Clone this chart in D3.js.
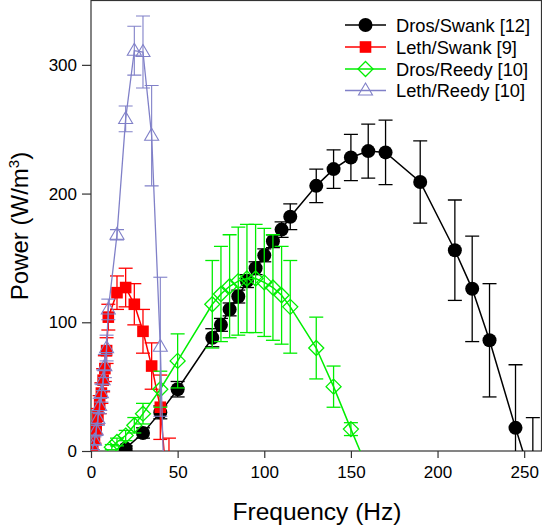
<!DOCTYPE html>
<html>
<head>
<meta charset="utf-8">
<script src="https://cdn.jsdelivr.net/npm/d3@7"></script>
<style>
  html, body { margin: 0; padding: 0; background: #fff; }
  svg { display: block; }
  text { font-family: "Liberation Sans", Arial, Helvetica, sans-serif; fill: #000; }
</style>
</head>
<body>
<svg id="chart" width="542" height="527"></svg>
<script>
// ---- data ----
const xTicks = [0, 50, 100, 150, 200, 250];
const yTicks = [0, 100, 200, 300];

const drosSwankFreq = [20,30,40,50,70,75,80,85,90,95,100,105,110,115,130,140,150,160,170,190,210,220,230,245,255];
const drosSwankPower = [2,14,30,48,88,98,110,120,132,142,152,163,172,182,206,219,228,233,232,209,156,126,86,18,-25];
const drosSwankErr = [2,4,5,6,7,5,5,5,5,5,5,5,6,10,13,15,18,21,25,32,39,41,44,49,51];

const lethSwankFreq = [1,2,3,4,5,6,7,8,9,10,15,20,25,30,35,40,45];
const lethSwankPower = [4,10,18,27,36,45,55,64,78,104,123,127,114,93,66,34,-45];
const lethSwankErr = [3,4,5,6,7,8,9,10,10,10,13,15,16,17,18,25,55];

const drosReedyFreq = [12,15,20,25,30,40,50,70,75,80,85,90,95,100,105,110,115,130,140,150,160];
const drosReedyPower = [3,7,12,20,29,48,70,114,122,128,132,134,134,131,127,121,112,80,50,17,-15];
const drosReedyErr = [2,3,4,6,8,14,21,34,37,40,42,42,42,42,41,38,36,24,16,5,5];

const lethReedyFreq = [1,2,3,4,5,6,7,8,9,10,15,20,25,30,35,40,45];
const lethReedyPower = [3,8,16,25,35,45,55,66,80,110,168,258,311,310,245,81,-170];
const lethReedyErr = [2,3,4,5,6,7,8,9,10,8,4,10,19,28,39,54,60];

const seriesNames = ["Dros/Swank [12]", "Leth/Swank [9]", "Dros/Reedy [10]", "Leth/Reedy [10]"];
const seriesColors = ["#000000", "#ff0000", "#00ee00", "#8080c8"];
const seriesMarkers = ["circle", "square", "diamond", "triangle"];

const series = [
  {x: drosSwankFreq, y: drosSwankPower, e: drosSwankErr},
  {x: lethSwankFreq, y: lethSwankPower, e: lethSwankErr},
  {x: drosReedyFreq, y: drosReedyPower, e: drosReedyErr},
  {x: lethReedyFreq, y: lethReedyPower, e: lethReedyErr}
].map((s, i) => ({
  name: seriesNames[i], color: seriesColors[i], marker: seriesMarkers[i],
  pts: s.x.map((x, j) => ({x, y: s.y[j], e: s.e[j]}))
}));

// ---- layout ----
const svg = d3.select("#chart");
const L = 91, R = 541.5, T = 0.5, B = 451;
const x = d3.scaleLinear().domain([0, 260]).range([L, R]);
const y = d3.scaleLinear().domain([0, 350]).range([B, T]);

svg.append("defs").append("clipPath").attr("id", "plotclip")
  .append("rect").attr("x", L).attr("y", T).attr("width", R - L).attr("height", B - T);

// axes
const xAxis = svg.append("g").attr("transform", `translate(0,${B})`)
  .call(d3.axisBottom(x).tickValues(xTicks).tickSize(7).tickPadding(8).tickSizeOuter(0));
const yAxis = svg.append("g").attr("transform", `translate(${L},0)`)
  .call(d3.axisLeft(y).tickValues(yTicks).tickSize(9).tickPadding(5).tickSizeOuter(0));
[xAxis, yAxis].forEach(a => {
  a.select(".domain").remove();
  a.selectAll(".tick line").attr("stroke", "#333").attr("stroke-width", 1.2);
  a.selectAll(".tick text").attr("font-size", 17).attr("font-family", "Liberation Sans, Arial, sans-serif").attr("fill", "#000");
});

// frame
svg.append("rect").attr("x", L).attr("y", T).attr("width", R - L).attr("height", B - T)
  .attr("fill", "none").attr("stroke", "#333").attr("stroke-width", 1.2);

// titles
svg.append("text").attr("x", 317).attr("y", 520).attr("text-anchor", "middle")
  .attr("font-size", 24.5).text("Frequency (Hz)");
const yt = svg.append("text").attr("transform", "translate(28,226) rotate(-90)").attr("text-anchor", "middle")
  .attr("font-size", 24);
yt.append("tspan").text("Power (W/m");
yt.append("tspan").attr("font-size", 15).attr("dy", -9).text("3");
yt.append("tspan").attr("dy", 9).text(")");

// markers
function drawMarker(g, type, color, cx, cy, scale) {
  const s = scale || 1;
  if (type === "circle") {
    g.append("circle").attr("cx", cx).attr("cy", cy).attr("r", 7 * s).attr("fill", color);
  } else if (type === "square") {
    const h = 5.8 * s;
    g.append("rect").attr("x", cx - h).attr("y", cy - h).attr("width", 2 * h).attr("height", 2 * h).attr("fill", color);
  } else if (type === "diamond") {
    const h = 7.5 * s;
    g.append("path").attr("d", `M${cx},${cy - h}L${cx + h},${cy}L${cx},${cy + h}L${cx - h},${cy}Z`)
      .attr("fill", "none").attr("stroke", color).attr("stroke-width", 1.3);
  } else if (type === "triangle") {
    const w = 7 * s, h = 12 * s;
    g.append("path").attr("d", `M${cx},${cy - h * 0.62}L${cx + w},${cy + h * 0.38}L${cx - w},${cy + h * 0.38}Z`)
      .attr("fill", "none").attr("stroke", color).attr("stroke-width", 1.1);
  }
}

const plot = svg.append("g").attr("clip-path", "url(#plotclip)");
const line = d3.line().x(d => x(d.x)).y(d => y(d.y));
const cap = 7;

series.forEach(s => {
  const g = plot.append("g");
  const sw = s.marker === "triangle" ? 1.1 : 1.3;
  // error bars
  s.pts.forEach(p => {
    const cx = x(p.x), y1 = y(p.y + p.e), y2 = y(p.y - p.e);
    g.append("line").attr("x1", cx).attr("x2", cx).attr("y1", y1).attr("y2", y2)
      .attr("stroke", s.color).attr("stroke-width", sw);
    [y1, y2].forEach(yy => g.append("line").attr("x1", cx - cap).attr("x2", cx + cap)
      .attr("y1", yy).attr("y2", yy).attr("stroke", s.color).attr("stroke-width", sw));
  });
  // line
  g.append("path").datum(s.pts).attr("d", line).attr("fill", "none")
    .attr("stroke", s.color).attr("stroke-width", sw + 0.2);
  // markers
  s.pts.forEach(p => drawMarker(g, s.marker, s.color, x(p.x), y(p.y)));
});

// legend
const legend = svg.append("g");
const legRows = [25, 47, 69, 90.5];
series.forEach((s, i) => {
  const yy = legRows[i];
  legend.append("line").attr("x1", 345).attr("x2", 386).attr("y1", yy).attr("y2", yy)
    .attr("stroke", s.color).attr("stroke-width", 1.4);
  drawMarker(legend, s.marker, s.color, 365.5, yy);
  legend.append("text").attr("x", 396).attr("y", yy + 6.5).attr("font-size", 18.3).text(s.name);
});
</script>
</body>
</html>
